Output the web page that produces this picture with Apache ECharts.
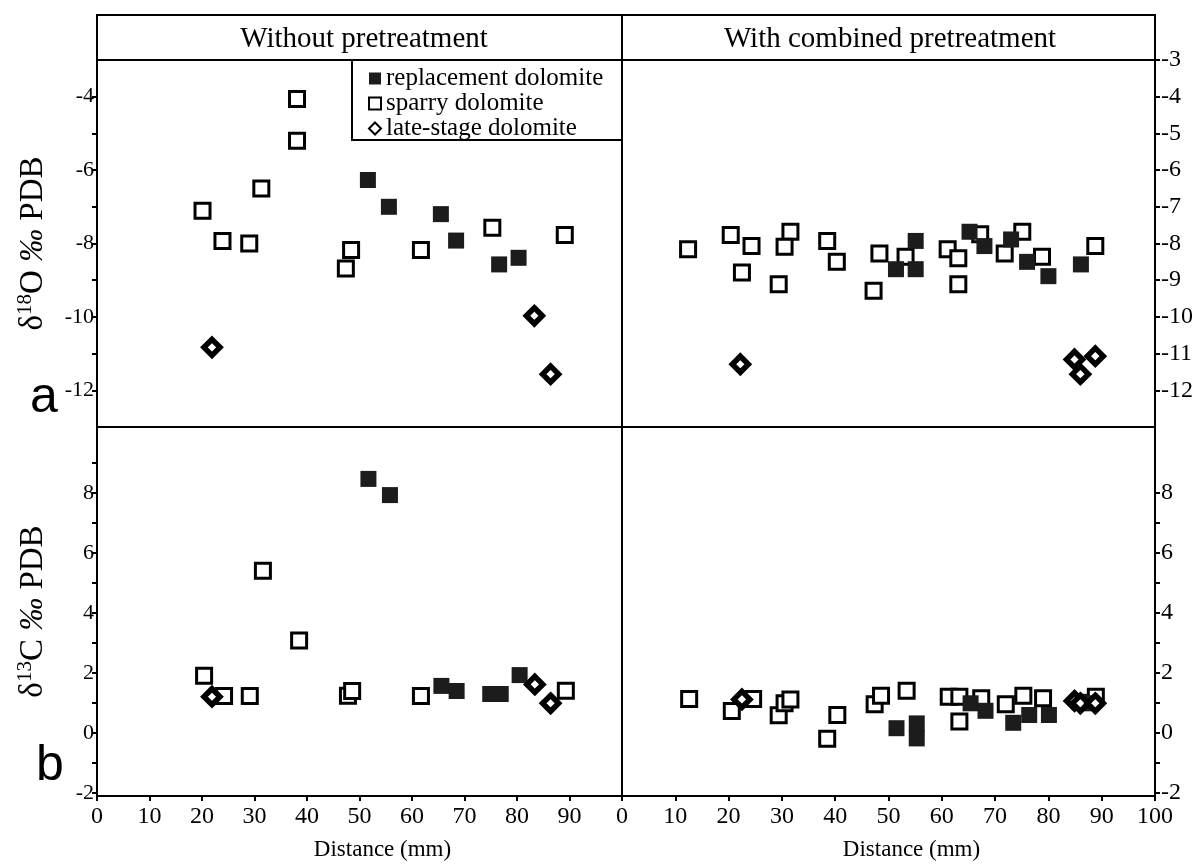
<!DOCTYPE html>
<html>
<head>
<meta charset="utf-8">
<title>Dolomite isotopes vs distance</title>
<script src="https://cdn.jsdelivr.net/npm/echarts@6/dist/echarts.min.js"></script>
<style>
  html, body { margin: 0; padding: 0; background: #fff; }
  #main { width: 1201px; height: 864px; }
</style>
</head>
<body>
<div id="main"></div>
<script>
// [distance (mm), delta value]
// a) delta 18O, without pretreatment
const o18NoPreReplacement = [[51.6, -6.27], [55.6, -7.0], [65.5, -7.2], [68.4, -7.92], [76.6, -8.57], [80.3, -8.39]];
const o18NoPreSparry = [[38.1, -4.06], [38.1, -5.2], [31.3, -6.5], [20.1, -7.11], [23.9, -7.93], [29.0, -8.0],
  [48.4, -8.18], [47.4, -8.68], [61.7, -8.18], [75.3, -7.57], [89.1, -7.77]];
const o18NoPreLate = [[21.9, -10.83], [83.3, -9.97], [86.4, -11.56]];

// a) delta 18O, with combined pretreatment
const o18CombReplacement = [[51.4, -8.7], [55.1, -7.93], [55.1, -8.7], [65.2, -7.68], [68.0, -8.07],
  [73.0, -7.89], [76.0, -8.5], [80.0, -8.89], [86.1, -8.57]];
const o18CombSparry = [[12.4, -8.16], [20.4, -7.77], [22.5, -8.79], [24.3, -8.07], [31.6, -7.68], [30.5, -8.09],
  [29.4, -9.11], [38.5, -7.93], [40.3, -8.5], [47.2, -9.29], [48.3, -8.27], [53.2, -8.36], [61.1, -8.16],
  [63.1, -8.4], [63.1, -9.11], [67.2, -7.75], [71.8, -8.27], [75.1, -7.68], [78.8, -8.36], [88.8, -8.07]];
const o18CombLate = [[22.2, -11.29], [84.9, -11.16], [86.0, -11.56], [88.8, -11.07]];

// b) delta 13C, without pretreatment
const c13NoPreReplacement = [[51.7, 8.47], [55.8, 7.93], [65.6, 1.57], [68.5, 1.4], [74.9, 1.3], [76.9, 1.3], [80.5, 1.93]];
const c13NoPreSparry = [[20.4, 1.91], [24.2, 1.23], [29.1, 1.23], [31.6, 5.41], [38.5, 3.08], [47.8, 1.24],
  [48.6, 1.4], [61.7, 1.23], [89.3, 1.41]];
const c13NoPreLate = [[21.9, 1.21], [83.4, 1.62], [86.4, 0.99]];

// b) delta 13C, with combined pretreatment
const c13CombReplacement = [[51.5, 0.16], [55.3, 0.32], [55.3, -0.18], [65.4, 0.99], [68.2, 0.74], [73.4, 0.34],
  [76.4, 0.6], [80.1, 0.6], [85.8, 1.04], [87.2, 0.99]];
const c13CombSparry = [[12.6, 1.13], [20.6, 0.73], [24.6, 1.13], [29.4, 0.59], [30.5, 0.99], [31.6, 1.12],
  [38.5, -0.19], [40.4, 0.6], [47.4, 0.96], [48.6, 1.24], [53.4, 1.41], [61.3, 1.21], [63.3, 1.21], [63.3, 0.38],
  [67.4, 1.16], [72.0, 0.96], [75.3, 1.24], [79.0, 1.16], [88.9, 1.21]];
const c13CombLate = [[22.5, 1.12], [84.9, 1.07], [86.0, 0.99], [88.8, 0.99]];

// tick labels
const distLeftTicks = [0, 10, 20, 30, 40, 50, 60, 70, 80, 90];
const distRightTicks = [0, 10, 20, 30, 40, 50, 60, 70, 80, 90, 100];
const o18LeftLabels = [-12, -10, -8, -6, -4];
const o18LeftTicks = [-12, -11, -10, -9, -8, -7, -6, -5, -4];
const o18RightLabels = [-12, -11, -10, -9, -8, -7, -6, -5, -4, -3];
const c13Labels = [-2, 0, 2, 4, 6, 8];
const c13LeftTicks = [-2, -1, 0, 1, 2, 3, 4, 5, 6, 7, 8, 9];
const c13RightTicks = [-2, -1, 0, 1, 2, 3, 4, 5, 6, 7, 8];

const serif = 'Liberation Serif';
const ink = '#000';

let chart = echarts.init(document.getElementById('main'));

function xAxisCfg (grid, ticks, labels) {
  return {
    type: 'value', gridIndex: grid, min: 0, max: 100,
    splitLine: { show: false },
    axisLine: { show: !!labels, onZero: false, lineStyle: { color: ink, width: 2 } },
    axisTick: { show: !!labels, length: 5, customValues: ticks || [], lineStyle: { color: ink, width: 2 } },
    axisLabel: {
      show: !!labels, customValues: labels || [], margin: 9,
      fontFamily: serif, fontSize: 24, color: ink
    },
    name: labels ? 'Distance (mm)' : '',
    nameLocation: 'middle', nameGap: 42,
    nameTextStyle: { fontFamily: serif, fontSize: 23, color: ink, padding: [0, 0, 0, 46] }
  };
}

function yAxisCfg (grid, min, max, pos, ticks, labels, size, name) {
  return {
    type: 'value', gridIndex: grid, min: min, max: max, position: pos,
    splitLine: { show: false },
    axisLine: { show: true, onZero: false, lineStyle: { color: ink, width: 2 } },
    axisTick: { show: true, length: 5, customValues: ticks, lineStyle: { color: ink, width: 2 } },
    axisLabel: { customValues: labels, margin: pos === 'left' ? 3 : 6, fontFamily: serif, fontSize: size, color: ink },
    name: name || '', nameLocation: 'middle', nameRotate: 90, nameGap: 46,
    nameTextStyle: {
      fontFamily: serif, fontSize: 33, color: ink,
      rich: {
        t: { fontFamily: serif, fontSize: 33, color: ink, lineHeight: 36 },
        s: { fontFamily: serif, fontSize: 21, color: ink, lineHeight: 20, verticalAlign: 'top' },
        i: { fontFamily: serif, fontSize: 33, fontStyle: 'italic', color: ink, lineHeight: 36 }
      }
    }
  };
}

function scatter (name, xi, data) {
  let style;
  if (name === 'replacement dolomite') {
    style = { symbol: 'rect', symbolSize: 16, itemStyle: { color: '#1c1c1c', opacity: 1 }, z: 3 };
  } else if (name === 'sparry dolomite') {
    style = { symbol: 'rect', symbolSize: 15, itemStyle: { color: '#fff', borderColor: ink, borderWidth: 3, opacity: 1 }, z: 2 };
  } else {
    style = { symbol: 'diamond', symbolSize: 16, itemStyle: { color: '#fff', borderColor: ink, borderWidth: 5.5, opacity: 1 }, z: 4 };
  }
  return Object.assign({ name: name, type: 'scatter', xAxisIndex: xi, yAxisIndex: xi, data: data }, style);
}

const gridStyle = { show: true, borderColor: ink, borderWidth: 2, backgroundColor: 'transparent' };

let option = {
  backgroundColor: '#fff',
  animation: false,
  grid: [
    Object.assign({ left: 97, top: 60, width: 525, height: 367 }, gridStyle),
    Object.assign({ left: 622, top: 60, width: 533, height: 367 }, gridStyle),
    Object.assign({ left: 97, top: 427, width: 525, height: 369 }, gridStyle),
    Object.assign({ left: 622, top: 427, width: 533, height: 369 }, gridStyle)
  ],
  xAxis: [
    xAxisCfg(0, null, null),
    xAxisCfg(1, null, null),
    xAxisCfg(2, distLeftTicks, distLeftTicks),
    xAxisCfg(3, distRightTicks, distRightTicks)
  ],
  yAxis: [
    yAxisCfg(0, -13, -3, 'left', o18LeftTicks, o18LeftLabels, 22, '{t|δ}{s|18}{t|O }{i|‰}{t| PDB}'),
    yAxisCfg(1, -13, -3, 'right', o18RightLabels, o18RightLabels, 24),
    yAxisCfg(2, -2.1, 10.2, 'left', c13LeftTicks, c13Labels, 22, '{t|δ}{s|13}{t|C }{i|‰}{t| PDB}'),
    yAxisCfg(3, -2.1, 10.2, 'right', c13RightTicks, c13Labels, 24)
  ],
  legend: {
    orient: 'vertical', left: 363, top: 61,
    itemWidth: 12, itemHeight: 12, itemGap: 0,
    data: ['replacement dolomite', 'sparry dolomite', 'late-stage dolomite'],
    textStyle: { fontFamily: serif, fontSize: 25, color: ink, lineHeight: 22 }
  },
  graphic: [
    { type: 'rect', shape: { x: 97, y: 15, width: 1058, height: 45 }, style: { fill: '#fff', stroke: ink, lineWidth: 2 } },
    { type: 'line', shape: { x1: 622, y1: 15, x2: 622, y2: 60 }, style: { stroke: ink, lineWidth: 2 } },
    { type: 'rect', shape: { x: 352, y: 60, width: 270, height: 80 }, style: { fill: '#fff', stroke: ink, lineWidth: 2 }, z: -1 },
    { type: 'text', x: 364, y: 39, style: { text: 'Without pretreatment', font: '29px "Liberation Serif"', fill: ink, align: 'center', verticalAlign: 'middle' } },
    { type: 'text', x: 890, y: 39, style: { text: 'With combined pretreatment', font: '29px "Liberation Serif"', fill: ink, align: 'center', verticalAlign: 'middle' } },
    { type: 'text', x: 44, y: 398, style: { text: 'a', font: '50px "Liberation Sans"', fill: ink, align: 'center', verticalAlign: 'middle' } },
    { type: 'text', x: 50, y: 766, style: { text: 'b', font: '50px "Liberation Sans"', fill: ink, align: 'center', verticalAlign: 'middle' } }
  ],
  series: [
    scatter('sparry dolomite', 0, o18NoPreSparry),
    scatter('replacement dolomite', 0, o18NoPreReplacement),
    scatter('late-stage dolomite', 0, o18NoPreLate),
    scatter('sparry dolomite', 1, o18CombSparry),
    scatter('replacement dolomite', 1, o18CombReplacement),
    scatter('late-stage dolomite', 1, o18CombLate),
    scatter('sparry dolomite', 2, c13NoPreSparry),
    scatter('replacement dolomite', 2, c13NoPreReplacement),
    scatter('late-stage dolomite', 2, c13NoPreLate),
    scatter('sparry dolomite', 3, c13CombSparry),
    scatter('replacement dolomite', 3, c13CombReplacement),
    scatter('late-stage dolomite', 3, c13CombLate)
  ]
};

chart.setOption(option);
</script>
</body>
</html>
